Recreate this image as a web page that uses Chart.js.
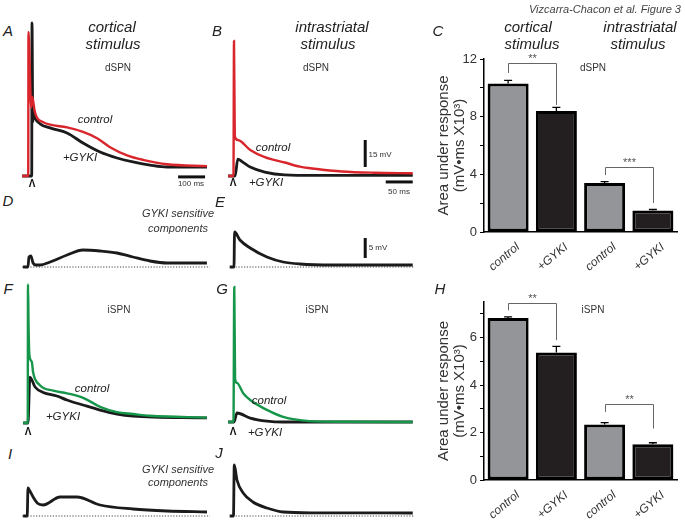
<!DOCTYPE html>
<html>
<head>
<meta charset="utf-8">
<script src="https://cdn.jsdelivr.net/npm/chart.js@4.4.1/dist/chart.umd.min.js"></script>
<style>
  body { margin: 0; background: #fff; }
  #fig { position: relative; width: 685px; height: 526px; overflow: hidden; font-family: "Liberation Sans", Arial, sans-serif; color: #333; }
  #fig canvas { position: absolute; }
  .lbl { position: absolute; white-space: nowrap; line-height: 1; transform: translate(-50%, -50%); }
  .pl { font-size: 15px; font-style: italic; color: #222; }
  .ti { font-size: 15px; font-style: italic; color: #222; }
  .sp { font-size: 10px; color: #333; }
  .cl { font-size: 11.5px; font-style: italic; color: #222; }
  .gk { font-size: 11px; font-style: italic; color: #333; }
  .sb { font-size: 8px; color: #333; }
  .ar { font-size: 10px; font-weight: bold; color: #111; }
  .fig { font-size: 11px; font-style: italic; color: #444; transform: translate(-100%, -50%); }
</style>
</head>
<body>
<div id="fig"></div>
<script>
// traces: time in ms from the stimulus, voltage in mV above baseline

// A - cortical stimulus, dSPN
const tA_ctrl = [-37, -14, -13, -3, 0, 4, 10, 20, 40, 67, 130, 189, 241, 289, 352, 411, 500, 648];
const vA_ctrl = [0, 0, 80, 38, 44, 42, 36, 32, 30, 28.5, 27, 24.5, 21, 16, 11.5, 9, 6.5, 5.5];
const tA_gyki = [-37, -1, 0, 3, 6, 12, 30, 67, 130, 189, 252, 315, 374, 437, 500, 648];
const vA_gyki = [0, 0, 85, 30, 35, 32, 29, 26.7, 23.9, 18.3, 13.3, 10, 7.8, 6.1, 5, 5];

// B - intrastriatal stimulus, dSPN
const tB_ctrl = [-11, -1, 0, 1.5, 7, 30, 57, 94, 122, 150, 200, 260, 331];
const vB_ctrl = [0, 0, 75, 22, 20, 14.5, 10.5, 7.5, 5.2, 4, 2.5, 1.8, 1.5];
const tB_gyki = [-11, 2, 7, 15, 30, 57, 94, 150, 331];
const vB_gyki = [0, 0, 9.4, 8, 5, 2.2, 0.6, 0.3, 0.3];

// D, E - GYKI sensitive components (dSPN)
const tD = [-22, -4, 0, 7, 15, 26, 41, 78, 141, 200, 263, 326, 385, 448, 511, 659];
const vD = [0, 0, 2.5, 2.75, 1, 0.5, 0.5, 1.25, 3, 4.25, 4, 3.5, 2.5, 1.5, 1, 1];
const tE = [-8, 0, 1, 11, 30, 61, 91, 122, 180, 331];
const vE = [0, 0, 8.75, 6.75, 4.75, 2.5, 1.25, 0.75, 0.5, 0.5];

// F - cortical stimulus, iSPN
const tF_ctrl = [-18, -1, 0, 2, 5, 14, 19, 44, 93, 144, 204, 267, 330, 389, 452, 663];
const vF_ctrl = [0, 0, 77, 55, 38, 34, 28, 21, 18, 16.5, 14, 9, 6, 5, 4, 3];
const tF_gyki = [-18, 0, 7, 26, 56, 107, 144, 204, 267, 330, 389, 663];
const vF_gyki = [0, 0, 25.5, 20, 17, 15, 12.8, 10, 7.2, 5, 3.9, 2.8];

// G - intrastriatal stimulus, iSPN
const tG_ctrl = [-11, -1, 0.5, 2, 5.5, 17, 30, 61, 91, 140, 200, 331];
const vG_ctrl = [0, 0, 75, 24, 21.7, 16, 12.2, 6.7, 2.8, 0.5, 0.1, 0];
const tG_gyki = [-11, 0, 5.5, 30, 61, 91, 331];
const vG_gyki = [0, 0, 5, 2.2, 0.5, 0, 0];

// I, J - GYKI sensitive components (iSPN)
const tI = [-18, -3, 0, 5, 19, 35, 56, 119, 181, 267, 389, 515, 663];
const vI = [0, 0, 7, 6.5, 4.75, 3.2, 2.75, 4.75, 4.75, 2.75, 1.75, 1.25, 1];
const tJ = [-8, -1, 0.5, 5.5, 17, 35, 61, 91, 150, 331];
const vJ = [0, 0, 12.75, 9, 5.75, 3.5, 2, 1, 0.8, 0.75];

// scale bars
const bar100ms_t = [541, 641];
const bar50ms_t = [281, 331];
const bar15mV_v = [5, 20];
const bar5mV_v = [2.25, 7.25];

// bar charts: area under response (mV*ms x10^3)
const groups = ['control', '+GYKI', 'control', '+GYKI'];
const areaDSPN = [10.3, 8.4, 3.4, 1.5];
const errDSPN = [0.22, 0.25, 0.1, 0.06];
const areaISPN = [6.83, 5.37, 2.34, 1.51];
const errISPN = [0.04, 0.26, 0.08, 0.06];
const ticksDSPN = [0, 4, 8, 12];
const ticksISPN = [0, 2, 4, 6];

// significance brackets
const sigPairs = [[0, 1], [2, 3]];
const sigTopDSPN = [11.72, 4.51];
const sigLegsDSPN = [[11.03, 8.81], [3.95, 2.01]];
const sigMarksDSPN = ['**', '***'];
const sigTopISPN = [7.47, 3.2];
const sigLegsISPN = [[7.15, 5.89], [2.87, 2.17]];
const sigMarksISPN = ['**', '**'];

const RED = '#d9262c';
const GREEN = '#16964a';
const BLACK = '#1b1b1b';

Chart.defaults.font.family = '"Liberation Sans", Arial, sans-serif';
const fig = document.getElementById('fig');

function addCanvas(left, top, width, height) {
  const c = document.createElement('canvas');
  c.width = width;
  c.height = height;
  c.style.left = left + 'px';
  c.style.top = top + 'px';
  c.style.width = width + 'px';
  c.style.height = height + 'px';
  fig.appendChild(c);
  return c;
}

function pts(t, v) {
  return t.map((x, i) => ({ x: x, y: v[i] }));
}

function trace(t, v, color, width) {
  return { data: pts(t, v), borderColor: color, borderWidth: width, cubicInterpolationMode: 'monotone', clip: false };
}

function dotted(t0, t1) {
  return { data: pts([t0, t1], [0, 0]), borderColor: '#444', borderWidth: 1, borderDash: [1.2, 1.6], clip: false };
}

function scaleBar(t, v) {
  return { data: pts(t, v), borderColor: '#111', borderWidth: 3, borderCapStyle: 'butt', clip: false };
}

// one trace panel; box maps ms/mV onto page pixels
function tracePanel(box, datasets) {
  const c = addCanvas(box.left, box.top, box.width, box.height);
  new Chart(c, {
    type: 'line',
    data: { datasets: datasets },
    options: {
      responsive: false,
      animation: false,
      events: [],
      devicePixelRatio: 1,
      layout: { padding: 0 },
      elements: { point: { radius: 0 } },
      plugins: { legend: { display: false }, tooltip: { enabled: false } },
      scales: {
        x: { type: 'linear', display: false,
             min: (box.left - box.x0) / box.pxMs,
             max: (box.left + box.width - box.x0) / box.pxMs },
        y: { type: 'linear', display: false,
             min: (box.y0 - box.top - box.height) / box.pxMv,
             max: (box.y0 - box.top) / box.pxMv }
      }
    }
  });
}

tracePanel({ left: 15, top: 12, width: 200, height: 180, x0: 32, y0: 176, pxMs: 0.27, pxMv: 1.8 }, [
  trace(tA_ctrl, vA_ctrl, RED, 2.4),
  trace(tA_gyki, vA_gyki, BLACK, 2.8),
  scaleBar(bar100ms_t, [-0.5, -0.5])
]);
tracePanel({ left: 215, top: 30, width: 205, height: 170, x0: 234, y0: 176, pxMs: 0.54, pxMv: 1.8 }, [
  trace(tB_ctrl, vB_ctrl, RED, 2.4),
  trace(tB_gyki, vB_gyki, BLACK, 2.8),
  scaleBar([243, 243], bar15mV_v),
  scaleBar(bar50ms_t, [-3.3, -3.3])
]);
tracePanel({ left: 15, top: 238, width: 200, height: 36, x0: 29, y0: 267, pxMs: 0.27, pxMv: 4 }, [
  trace(tD, vD, BLACK, 2.8),
  dotted(-26, 670)
]);
tracePanel({ left: 215, top: 222, width: 205, height: 52, x0: 234, y0: 267, pxMs: 0.54, pxMv: 4 }, [
  trace(tE, vE, BLACK, 2.8),
  dotted(-7.4, 335),
  scaleBar([243, 243], bar5mV_v)
]);
tracePanel({ left: 15, top: 278, width: 200, height: 150, x0: 28, y0: 423, pxMs: 0.27, pxMv: 1.8 }, [
  trace(tF_ctrl, vF_ctrl, GREEN, 2.4),
  trace(tF_gyki, vF_gyki, BLACK, 2.8)
]);
tracePanel({ left: 215, top: 278, width: 205, height: 150, x0: 234, y0: 422, pxMs: 0.54, pxMv: 1.8 }, [
  trace(tG_ctrl, vG_ctrl, GREEN, 2.4),
  trace(tG_gyki, vG_gyki, BLACK, 2.8)
]);
tracePanel({ left: 15, top: 478, width: 200, height: 45, x0: 28, y0: 516, pxMs: 0.27, pxMv: 4 }, [
  trace(tI, vI, BLACK, 2.8),
  dotted(-22, 674)
]);
tracePanel({ left: 215, top: 455, width: 205, height: 68, x0: 234, y0: 516, pxMs: 0.54, pxMv: 4 }, [
  trace(tJ, vJ, BLACK, 2.8),
  dotted(-7.4, 335)
]);

// error bars and significance brackets on top of the bars
function sigPlugin(errs, tops, legs, marks) {
  return {
    id: 'sig',
    afterDatasetsDraw(chart) {
      const { ctx, scales: { x, y } } = chart;
      const vals = chart.data.datasets[0].data;
      ctx.save();
      ctx.strokeStyle = '#000';
      ctx.lineWidth = 1.3;
      vals.forEach((v, i) => {
        const cx = x.getPixelForValue(i);
        const y0 = y.getPixelForValue(v);
        const y1 = y.getPixelForValue(v + errs[i]);
        ctx.beginPath();
        ctx.moveTo(cx, y0);
        ctx.lineTo(cx, y1);
        ctx.moveTo(cx - 4, y1);
        ctx.lineTo(cx + 4, y1);
        ctx.stroke();
      });
      ctx.strokeStyle = '#666';
      ctx.lineWidth = 1;
      ctx.fillStyle = '#555';
      ctx.font = '11px "Liberation Sans", Arial, sans-serif';
      ctx.textAlign = 'center';
      ctx.textBaseline = 'bottom';
      sigPairs.forEach((p, k) => {
        const xl = Math.round(x.getPixelForValue(p[0])) + 0.5;
        const xr = Math.round(x.getPixelForValue(p[1])) + 0.5;
        const yt = Math.round(y.getPixelForValue(tops[k])) + 0.5;
        ctx.beginPath();
        ctx.moveTo(xl, y.getPixelForValue(legs[k][0]));
        ctx.lineTo(xl, yt);
        ctx.lineTo(xr, yt);
        ctx.lineTo(xr, y.getPixelForValue(legs[k][1]));
        ctx.stroke();
        ctx.fillText(marks[k], (xl + xr) / 2, yt + 1);
      });
      ctx.restore();
    }
  };
}

function barPanel(box, values, errs, yMax, step, labelled, tops, legs, marks) {
  const c = addCanvas(box.left, box.top, box.width, box.height);
  new Chart(c, {
    type: 'bar',
    data: {
      labels: groups,
      datasets: [{
        data: values,
        backgroundColor: ['#939598', '#231f20', '#939598', '#231f20'],
        borderColor: '#000',
        borderWidth: 3,
        borderSkipped: false,
        barPercentage: 0.85,
        categoryPercentage: 1
      }]
    },
    options: {
      responsive: false,
      animation: false,
      events: [],
      devicePixelRatio: 1,
      layout: { padding: box.pad },
      plugins: { legend: { display: false }, tooltip: { enabled: false } },
      scales: {
        x: {
          afterFit: (s) => { s.height = 40; },
          grid: { display: false },
          border: { display: true, color: '#000', width: 1.5 },
          ticks: { color: '#333', font: { size: 12, style: 'italic' }, minRotation: 40, maxRotation: 40,
                   padding: 0, labelOffset: 10, autoSkip: false }
        },
        y: {
          min: 0,
          max: yMax,
          afterFit: (s) => { s.width = 59; },
          grid: { drawOnChartArea: false, drawTicks: true, tickLength: 4, color: '#000', lineWidth: 1 },
          border: { display: true, color: '#000', width: 1.5 },
          ticks: {
            stepSize: step,
            includeBounds: false,
            padding: 3,
            color: '#333',
            font: { size: 13 },
            callback: (v) => labelled.includes(v) ? v : ''
          },
          title: {
            display: true,
            text: ['Area under response', '(mV\u2022ms X10\u00b3)'],
            color: '#333',
            font: { size: 15, lineHeight: 1.05 },
            padding: { top: 11, bottom: 0 }
          }
        }
      }
    },
    plugins: [sigPlugin(errs, tops, legs, marks)]
  });
}

barPanel({ left: 425, top: 45, width: 260, height: 240, pad: { top: 14, right: 8, bottom: 13, left: 0 } },
  areaDSPN, errDSPN, 12, 2, ticksDSPN, sigTopDSPN, sigLegsDSPN, sigMarksDSPN);
barPanel({ left: 425, top: 288, width: 260, height: 238, pad: { top: 14, right: 8, bottom: 6, left: 0 } },
  areaISPN, errISPN, 7.5, 1, ticksISPN, sigTopISPN, sigLegsISPN, sigMarksISPN);

// text labels: [text, centre x, centre y, class]
const labels = [
  ['A', 8, 30, 'pl'], ['B', 217, 30, 'pl'], ['C', 438, 30, 'pl'], ['D', 8, 200, 'pl'], ['E', 220, 201, 'pl'],
  ['F', 8, 288, 'pl'], ['G', 222, 288, 'pl'], ['H', 440, 288, 'pl'], ['I', 10, 453, 'pl'], ['J', 219, 452, 'pl'],
  ['cortical', 112, 26, 'ti'], ['stimulus', 113, 43, 'ti'],
  ['intrastriatal', 332, 26, 'ti'], ['stimulus', 328, 43, 'ti'],
  ['cortical', 528, 26, 'ti'], ['stimulus', 532, 43, 'ti'],
  ['intrastriatal', 640, 26, 'ti'], ['stimulus', 638, 43, 'ti'],
  ['dSPN', 118, 68, 'sp'], ['dSPN', 316, 68, 'sp'], ['dSPN', 593, 68, 'sp'],
  ['iSPN', 119, 310, 'sp'], ['iSPN', 317, 310, 'sp'], ['iSPN', 593, 310, 'sp'],
  ['control', 95, 120, 'cl'], ['+GYKI', 80, 158, 'cl'],
  ['control', 273, 148, 'cl'], ['+GYKI', 266, 183, 'cl'],
  ['control', 92, 389, 'cl'], ['+GYKI', 63, 417, 'cl'],
  ['control', 269, 401, 'cl'], ['+GYKI', 265, 433, 'cl'],
  ['GYKI sensitive', 178, 213, 'gk'], ['components', 178, 228, 'gk'],
  ['GYKI sensitive', 178, 469, 'gk'], ['components', 178, 482, 'gk'],
  ['100 ms', 191, 184, 'sb'], ['50 ms', 399, 192, 'sb'], ['15 mV', 380, 155, 'sb'], ['5 mV', 378, 248, 'sb'],
  ['\u039b', 32, 184, 'ar'], ['\u039b', 233, 183, 'ar'], ['\u039b', 28, 432, 'ar'], ['\u039b', 233, 432, 'ar'],
  ['Vizcarra-Chacon et al. Figure 3', 681, 9, 'fig']
];

labels.forEach(([text, x, y, cls]) => {
  const d = document.createElement('div');
  d.className = 'lbl ' + cls;
  d.textContent = text;
  d.style.left = x + 'px';
  d.style.top = y + 'px';
  fig.appendChild(d);
});
</script>
</body>
</html>
